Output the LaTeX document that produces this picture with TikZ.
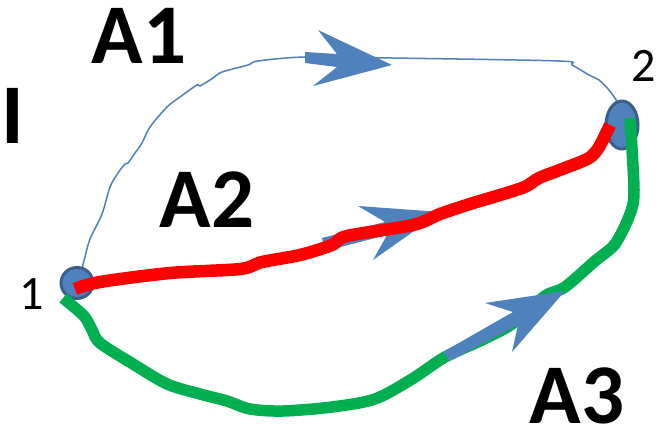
\documentclass[tikz,border=0pt]{standalone}
\usepackage{fontspec}
\setmainfont{Carlito}
\begin{document}
\begin{tikzpicture}[x=1pt,y=-1pt,
  big/.style={font=\fontsize{85}{85}\selectfont\bfseries, inner sep=0pt, text=black},
  small/.style={font=\fontsize{48}{48}\selectfont, inner sep=0pt, text=black},
  vertex/.style={draw=nodeborder, fill=nodeblue, line width=3pt},
  thinpath/.style={draw=nodeblue, line width=1.5pt},
  redpath/.style={draw=red, line width=12.5pt, line join=round},
  greenpath/.style={draw=pathgreen, line width=11.5pt, line join=round},
  arrowshape/.style={fill=nodeblue, draw=none}]
\definecolor{nodeblue}{HTML}{4F81BD}
\definecolor{nodeborder}{HTML}{3A5F8B}
\definecolor{pathgreen}{HTML}{00B050}
\useasboundingbox (0,0) rectangle (664,428);
\fill[white] (0,0) rectangle (664,428);

% labels
\node[big] (lA1) at (139,36) {A1};
\node[big] (lI) at (12.5,116) {I};
\node[big] (lA2) at (207,200) {A2};
\node[big] (lA3) at (577,396) {A3};
\node[small] (l1) at (32,294) {1};
\node[small] (l2) at (644,66) {2};

% thin blue path A1
\draw[thinpath] plot[smooth, tension=0.5] coordinates {
 (82,268) (85,257) (90,239) (102,214) (110,187) (118,173) (125,164) (128,163)
 (135,153) (142,143) (150,127) (167,107) (180,97) (197,85) (200,86) (213,78)
 (222,72) (248,65) (258,61) (305,57) (392,58) (559,61) (572,65) (589,75) (599,80) (609,90) (617,101)};

% vertices
\draw[vertex] (77,283) ellipse [x radius=16, y radius=15.5];
\draw[vertex] (622,125) ellipse [x radius=16, y radius=24];

% A2 arrow (under the red path)
\fill[arrowshape] (322,238) -- (385,222) -- (358,206) -- (441,212) -- (373,260) -- (387,235) -- (325,251) -- cycle;

% red path A2
\draw[redpath, line cap=butt] plot[smooth, tension=0.5] coordinates {
 (75,289) (100,282) (170,273) (240,269) (262,262) (300,255) (332,245) (347,236)
 (413,225) (440,214) (470,204) (522,188) (539,178) (565,168) (589,158) (599,147) (610,125)};

% green path A3
\draw[greenpath, line cap=butt] plot[smooth, tension=0.5] coordinates {
 (63,298) (84,316) (92,330) (100,343) (133,364) (167,384) (200,394) (227,401)
 (250,409) (283,411) (332,407) (375,399) (412,379) (445,357) (482,340) (512,324)
 (545,296) (565,287) (595,261) (615,244) (630,214) (634,190) (630,118)};

% A1 arrow
\fill[arrowshape] (305,52) -- (337,54) -- (318,30) -- (392,65) -- (313,86) -- (337,67) -- (305,63) -- cycle;
% A3 arrow
\fill[arrowshape] (443,352) -- (513,312) -- (485,303) -- (565,291) -- (512,352) -- (518,325) -- (450,361) -- cycle;
\end{tikzpicture}
\end{document}
